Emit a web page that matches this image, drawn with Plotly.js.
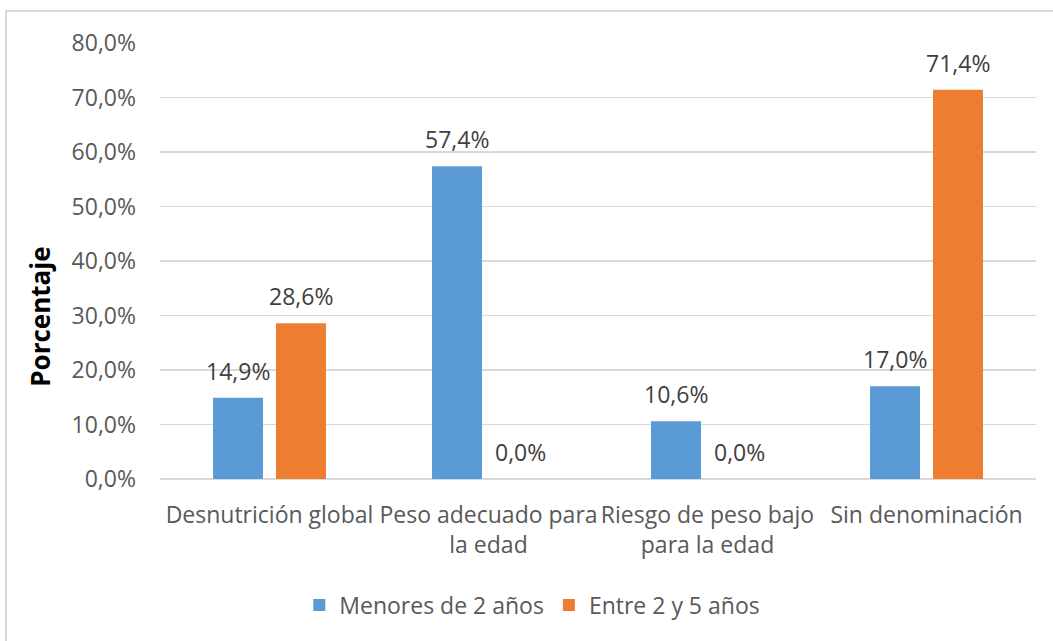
<!DOCTYPE html>
<html>
<head>
<meta charset="utf-8">
<script src="https://cdn.plot.ly/plotly-3.0.1.min.js"></script>
<style>
html,body{margin:0;padding:0;background:#fff;}
#chart{width:1053px;height:641px;}
</style>
</head>
<body>
<div id="chart"></div>
<script>
const categories = ["Desnutrición global", "Peso adecuado para<br>la edad", "Riesgo de peso bajo<br>para la edad", "Sin denominación"];
const seriesNames = ["Menores de 2 años", "Entre 2 y 5 años"];
const menores2 = [14.9, 57.4, 10.6, 17.0];
const entre2y5 = [28.6, 0.0, 0.0, 71.4];
const yTickVals = [0, 10, 20, 30, 40, 50, 60, 70, 80];
const colors = ["#5b9bd5", "#ed7d31"];

const FONT = "'Open Sans', sans-serif";
const FS = 23;

function fmt(v){ return v.toFixed(1).replace('.', ',') + '%'; }

const traces = [menores2, entre2y5].map((vals, i) => ({
  type: 'bar',
  name: seriesNames[i],
  x: categories,
  y: vals,
  marker: {color: colors[i]},
  hoverinfo: 'none'
}));

const annotations = [];
[menores2, entre2y5].forEach((vals, i) => {
  vals.forEach((v, j) => {
    annotations.push({
      x: categories[j], y: v, xref: 'x', yref: 'y',
      text: fmt(v), showarrow: false,
      xshift: i === 0 ? -31.5 : 31.5, yshift: 9,
      yanchor: 'bottom', xanchor: 'center',
      font: {family: FONT, size: FS, color: '#404040'}
    });
  });
});
annotations.push({
  text: '<b>Porcentaje</b>', textangle: -90, showarrow: false,
  xref: 'paper', yref: 'paper', x: -0.137, y: 0.372,
  xanchor: 'center', yanchor: 'middle',
  font: {family: FONT, size: 26, color: '#000000'}
});

const layout = {
  width: 1053, height: 641,
  margin: {l: 160, r: 17, t: 43, b: 162},
  paper_bgcolor: '#ffffff', plot_bgcolor: '#ffffff',
  font: {family: FONT, size: FS, color: '#595959'},
  barmode: 'group',
  bargap: 0.425,
  bargroupgap: 0.206,
  showlegend: true,
  legend: {
    orientation: 'h', x: 0.425, xanchor: 'center', y: -0.289, yanchor: 'middle',
    font: {family: FONT, size: FS, color: '#595959'},
    traceorder: 'normal', itemwidth: 30
  },
  xaxis: {
    type: 'category', showgrid: false, showline: false, zeroline: false,
    ticks: '', ticklabelstandoff: 20,
    tickfont: {family: FONT, size: FS, color: '#595959'}
  },
  yaxis: {
    range: [0, 80], tickmode: 'array', tickvals: yTickVals,
    ticktext: yTickVals.map(fmt),
    showgrid: true, gridcolor: '#d9d9d9', gridwidth: 1.3,
    zeroline: true, zerolinecolor: '#d9d9d9', zerolinewidth: 1.3,
    showline: false, ticks: '', ticklabelstandoff: 23,
    tickfont: {family: FONT, size: FS, color: '#595959'}
  },
  annotations: annotations,
  shapes: [{
    type: 'rect', xref: 'paper', yref: 'paper',
    x0: -0.1758, x1: 1.05, y0: -0.45, y1: 1.0734,
    line: {color: '#d9d9d9', width: 2}, fillcolor: 'rgba(0,0,0,0)', layer: 'below'
  }]
};

Plotly.newPlot('chart', traces, layout, {displayModeBar: false, staticPlot: true});
</script>
</body>
</html>
